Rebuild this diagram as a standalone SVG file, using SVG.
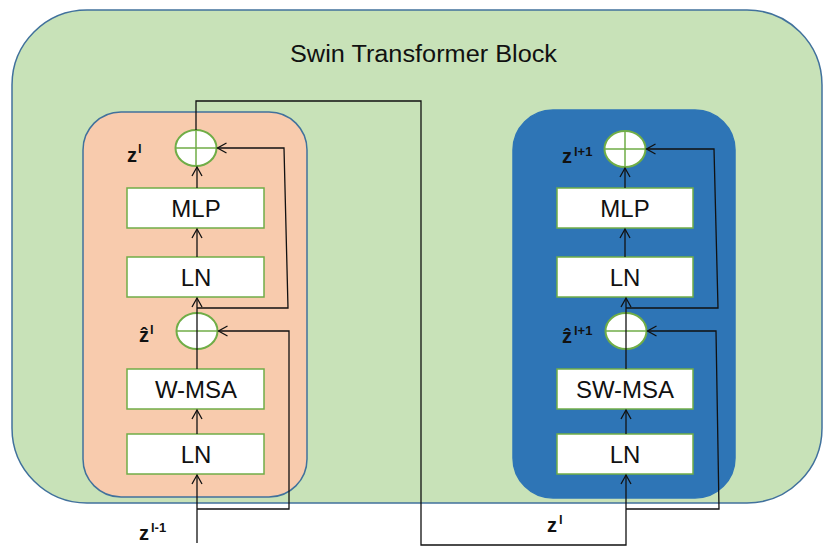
<svg xmlns="http://www.w3.org/2000/svg" width="826" height="547" viewBox="0 0 826 547">
  <defs>
    <style>
      .frame { fill: #C8E2B8; stroke: #41719C; stroke-width: 1.5; }
      .stage-w { fill: #F8CBAD; stroke: #41719C; stroke-width: 1.5; }
      .stage-sw { fill: #2E75B6; stroke: #2E75B6; stroke-width: 1.5; }
      .op { fill: #FFFFFF; stroke: #70AD47; stroke-width: 1.5; }
      .add { fill: #FFFFFF; stroke: #70AD47; stroke-width: 2; }
      .cross { stroke: #70AD47; stroke-width: 1.5; fill: none; }
      .wire { fill: none; stroke: #111111; stroke-width: 1.3; }
      .title { font-family: "Liberation Sans", Arial, sans-serif; font-size: 23px; fill: #111111; }
      .op-label { font-family: "Liberation Sans", Arial, sans-serif; font-size: 24px; fill: #111111; text-anchor: middle; }
      .var { font-family: "Liberation Sans", "DejaVu Sans", Arial, sans-serif; font-size: 20px; font-weight: bold; fill: #111111; }
      .sup { font-size: 13px; }
    </style>
    <marker id="chevron" viewBox="-11 -7 13 14" refX="0" refY="0" markerWidth="13" markerHeight="14" markerUnits="userSpaceOnUse" orient="auto">
      <path d="M-9,-5 L0,0 L-9,5" fill="none" stroke="#111111" stroke-width="1.3"/>
    </marker>
  </defs>

  <!-- outer block -->
  <g id="swin-block">
    <rect class="frame" x="12" y="10" width="810" height="493" rx="75" ry="75"/>
    <text class="title" x="290" y="62" textLength="267" lengthAdjust="spacingAndGlyphs">Swin Transformer Block</text>
  </g>

  <!-- first stage: window attention -->
  <g id="stage-wmsa">
    <rect class="stage-w" x="83" y="112" width="224" height="385" rx="38" ry="38"/>
  </g>
  <!-- second stage: shifted window attention -->
  <g id="stage-swmsa">
    <rect class="stage-sw" x="513" y="110" width="222" height="388" rx="40" ry="40"/>
  </g>

  <!-- left column nodes -->
  <g id="ln1-a">
    <rect class="op" x="127" y="434" width="137" height="40"/>
    <text class="op-label" x="196" y="463">LN</text>
  </g>
  <g id="wmsa">
    <rect class="op" x="127" y="369" width="137" height="40"/>
    <text class="op-label" x="196" y="398">W-MSA</text>
  </g>
  <g id="add1-a">
    <ellipse class="add" cx="197" cy="331" rx="20.5" ry="18"/>
    <path class="cross" d="M176.5,331 H217.5"/>
  </g>
  <g id="ln2-a">
    <rect class="op" x="127" y="257" width="137" height="40"/>
    <text class="op-label" x="196" y="286">LN</text>
  </g>
  <g id="mlp-a">
    <rect class="op" x="127" y="188" width="137" height="40"/>
    <text class="op-label" x="196" y="217">MLP</text>
  </g>
  <g id="add2-a">
    <ellipse class="add" cx="196" cy="148" rx="20.5" ry="18"/>
    <path class="cross" d="M175.5,148 H216.5 M196,130 V166"/>
  </g>

  <!-- right column nodes -->
  <g id="ln1-b">
    <rect class="op" x="557" y="434" width="136" height="40"/>
    <text class="op-label" x="625" y="463">LN</text>
  </g>
  <g id="swmsa">
    <rect class="op" x="557" y="369" width="136" height="40"/>
    <text class="op-label" x="625" y="398">SW-MSA</text>
  </g>
  <g id="add1-b">
    <ellipse class="add" cx="626" cy="331" rx="20.5" ry="18"/>
    <path class="cross" d="M605.5,331 H646.5"/>
  </g>
  <g id="ln2-b">
    <rect class="op" x="557" y="257" width="136" height="40"/>
    <text class="op-label" x="625" y="286">LN</text>
  </g>
  <g id="mlp-b">
    <rect class="op" x="557" y="188" width="136" height="40"/>
    <text class="op-label" x="625" y="217">MLP</text>
  </g>
  <g id="add2-b">
    <ellipse class="add" cx="625" cy="149" rx="20.5" ry="18"/>
    <path class="cross" d="M604.5,149 H645.5 M625,131 V167"/>
  </g>

  <!-- connectors -->
  <g id="connectors">
    <path class="wire" d="M197,543 V475" marker-end="url(#chevron)"/>
    <path class="wire" d="M197,509 H289 V331 H218.5" marker-end="url(#chevron)"/>
    <path class="wire" d="M197,434 V410" marker-end="url(#chevron)"/>
    <path class="wire" d="M197,369 V298" marker-end="url(#chevron)"/>
    <path class="wire" d="M197,308 H288 L284,148 H217.5" marker-end="url(#chevron)"/>
    <path class="wire" d="M197,257 V229" marker-end="url(#chevron)"/>
    <path class="wire" d="M197,188 V167" marker-end="url(#chevron)"/>
    <path class="wire" d="M196,130 V101 H421 V545 H626 V475" marker-end="url(#chevron)"/>
    <path class="wire" d="M626,509 H719 L716,331 H647.5" marker-end="url(#chevron)"/>
    <path class="wire" d="M626,434 V410" marker-end="url(#chevron)"/>
    <path class="wire" d="M626,369 V298" marker-end="url(#chevron)"/>
    <path class="wire" d="M626,308 H718 L714,149 H646.5" marker-end="url(#chevron)"/>
    <path class="wire" d="M625,257 V229" marker-end="url(#chevron)"/>
    <path class="wire" d="M625,188 V168" marker-end="url(#chevron)"/>
  </g>

  <!-- variable labels: z, hatted z and their superscripts -->
  <g id="labels">
    <text class="var" x="127" y="162">z<tspan class="sup" x="138" y="153">l</tspan></text>
    <text class="var" x="139" y="342">ẑ<tspan class="sup" x="150" y="334">l</tspan></text>
    <text class="var" x="139" y="540">z<tspan class="sup" x="151" y="532">l-1</tspan></text>
    <text class="var" x="562" y="163">z<tspan class="sup" x="574" y="156">l+1</tspan></text>
    <text class="var" x="562" y="343">ẑ<tspan class="sup" x="574" y="335">l+1</tspan></text>
    <text class="var" x="547" y="532">z<tspan class="sup" x="559" y="524">l</tspan></text>
  </g>
</svg>
